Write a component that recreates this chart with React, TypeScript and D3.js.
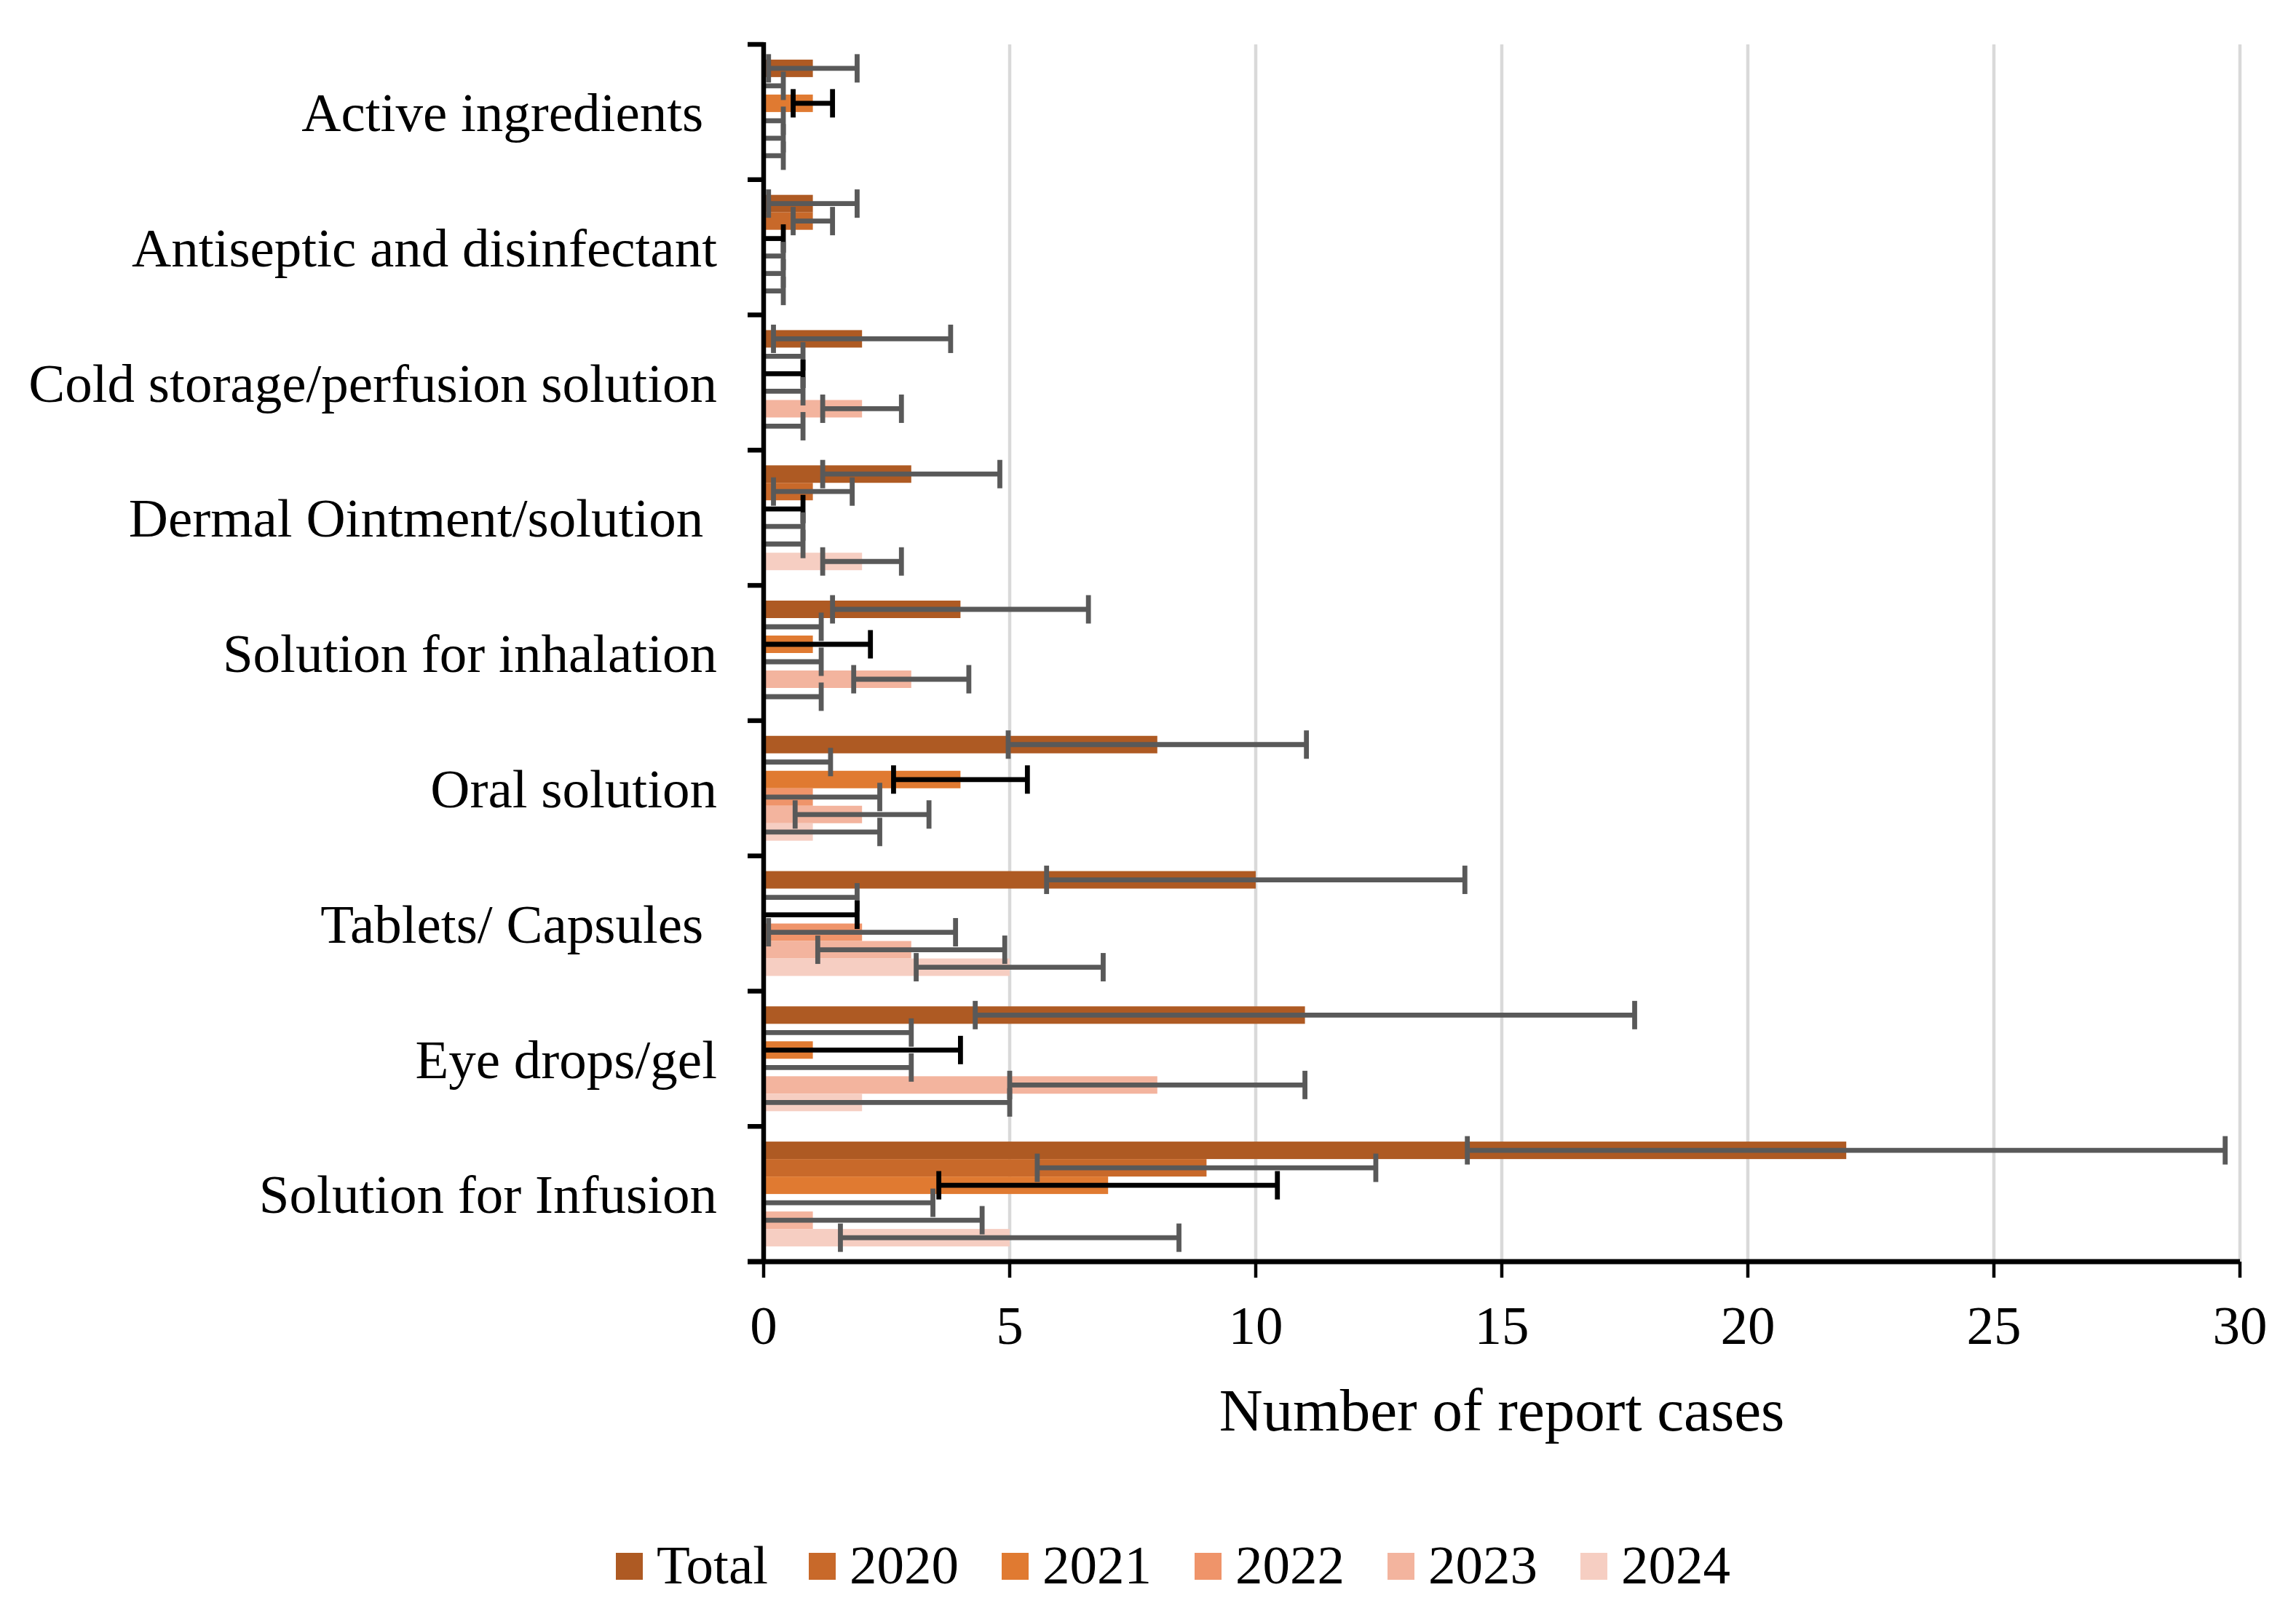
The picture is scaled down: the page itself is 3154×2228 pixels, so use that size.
import React, { useRef, useEffect } from "react";
import * as d3 from "d3";

const categories = [
  "Active ingredients ",
  "Antiseptic and disinfectant",
  "Cold storage/perfusion solution",
  "Dermal Ointment/solution ",
  "Solution for inhalation",
  "Oral solution",
  "Tablets/ Capsules ",
  "Eye drops/gel",
  "Solution for Infusion",
];

const seriesNames = ["Total", "2020", "2021", "2022", "2023", "2024"];

const totalValues = [1, 1, 2, 3, 4, 8, 10, 11, 22];
const values2020 = [0, 1, 0, 1, 0, 0, 0, 0, 9];
const values2021 = [1, 0, 0, 0, 1, 4, 0, 1, 7];
const values2022 = [0, 0, 0, 0, 0, 1, 2, 0, 0];
const values2023 = [0, 0, 2, 0, 3, 2, 3, 8, 1];
const values2024 = [0, 0, 0, 2, 0, 1, 5, 2, 5];

// error bar half-widths
const totalErrors = [0.9, 0.9, 1.8, 1.8, 2.6, 3.03, 4.25, 6.7, 7.7];
const yearErrors = [0.4, 0.4, 0.8, 0.8, 1.17, 1.36, 1.9, 3.0, 3.44];

const xTicks = [0, 5, 10, 15, 20, 25, 30];

const colors = ["#AE5A23", "#C8692A", "#E07A31", "#EF946A", "#F3B49E", "#F6CEC2"];
const errColors = ["#595959", "#595959", "#000000", "#595959", "#595959", "#595959"];

const W = 3154;
const H = 2228;
const FONT = "'Liberation Serif', 'Times New Roman', serif";

const Chart: React.FC = () => {
  const svgRef = useRef<SVGSVGElement | null>(null);
  const margin = { top: 61, right: 77, bottom: 495, left: 1049 };

  useEffect(() => {
    const svg = d3.select(svgRef.current);
    svg.selectAll("*").remove();

    const innerWidth = W - margin.left - margin.right;
    const innerHeight = H - margin.top - margin.bottom;

    const x = d3.scaleLinear().domain([0, 30]).range([0, innerWidth]);
    const y = d3.scaleBand().domain(categories).range([0, innerHeight]).padding(0);
    const inner = d3
      .scaleBand()
      .domain(seriesNames)
      .range([0, y.bandwidth()])
      .paddingInner(0)
      .paddingOuter(0.87);

    const allValues = [totalValues, values2020, values2021, values2022, values2023, values2024];
    const allErrors = [totalErrors, yearErrors, yearErrors, yearErrors, yearErrors, yearErrors];

    const g = svg.append("g").attr("transform", `translate(${margin.left},${margin.top})`);

    // gridlines
    g.selectAll(".grid")
      .data(xTicks.filter((t) => t > 0))
      .enter()
      .append("line")
      .attr("x1", (d) => x(d))
      .attr("x2", (d) => x(d))
      .attr("y1", 0)
      .attr("y2", innerHeight)
      .attr("stroke", "#D9D9D9")
      .attr("stroke-width", 4.5);

    // bars
    seriesNames.forEach((s, si) => {
      g.selectAll(`.bar-${si}`)
        .data(categories)
        .enter()
        .append("rect")
        .attr("x", 0)
        .attr("y", (c) => y(c)! + inner(s)!)
        .attr("width", (c, i) => x(allValues[si][i]))
        .attr("height", inner.bandwidth())
        .attr("fill", colors[si]);
    });

    // error bars
    const capHalf = 19.5;
    seriesNames.forEach((s, si) => {
      categories.forEach((c, i) => {
        const v = allValues[si][i];
        const e = allErrors[si][i];
        const cy = y(c)! + inner(s)! + inner.bandwidth() / 2;
        const lo = v - e;
        const hi = v + e;
        const eg = g.append("g").attr("stroke", errColors[si]).attr("stroke-width", 6.8);
        eg.append("line")
          .attr("x1", x(Math.max(0, lo)))
          .attr("x2", x(hi))
          .attr("y1", cy)
          .attr("y2", cy);
        eg.append("line")
          .attr("x1", x(hi))
          .attr("x2", x(hi))
          .attr("y1", cy - capHalf)
          .attr("y2", cy + capHalf);
        if (lo > 0) {
          eg.append("line")
            .attr("x1", x(lo))
            .attr("x2", x(lo))
            .attr("y1", cy - capHalf)
            .attr("y2", cy + capHalf);
        }
      });
    });

    // category axis
    g.append("line")
      .attr("x1", 0)
      .attr("x2", 0)
      .attr("y1", -3)
      .attr("y2", innerHeight + 3)
      .attr("stroke", "#000")
      .attr("stroke-width", 6.5);
    const bounds = categories.map((c) => y(c)!).concat([innerHeight]);
    g.selectAll(".ctick")
      .data(bounds)
      .enter()
      .append("line")
      .attr("x1", -22)
      .attr("x2", 0)
      .attr("y1", (d) => d)
      .attr("y2", (d) => d)
      .attr("stroke", "#000")
      .attr("stroke-width", 6.5);

    g.selectAll(".clabel")
      .data(categories)
      .enter()
      .append("text")
      .attr("x", -64)
      .attr("y", (c) => y(c)! + y.bandwidth() / 2)
      .attr("dy", "0.35em")
      .attr("text-anchor", "end")
      .style("white-space", "pre")
      .attr("font-family", FONT)
      .attr("font-size", 75)
      .attr("fill", "#000")
      .text((c) => c);

    // value axis
    g.append("line")
      .attr("x1", -22)
      .attr("x2", innerWidth)
      .attr("y1", innerHeight)
      .attr("y2", innerHeight)
      .attr("stroke", "#000")
      .attr("stroke-width", 6.8);
    g.selectAll(".xtick")
      .data(xTicks)
      .enter()
      .append("line")
      .attr("x1", (d) => x(d))
      .attr("x2", (d) => x(d))
      .attr("y1", innerHeight)
      .attr("y2", innerHeight + 22)
      .attr("stroke", "#000")
      .attr("stroke-width", 4.5);
    g.selectAll(".xlabel")
      .data(xTicks)
      .enter()
      .append("text")
      .attr("x", (d) => x(d))
      .attr("y", innerHeight + 113)
      .attr("text-anchor", "middle")
      .attr("font-family", FONT)
      .attr("font-size", 75)
      .attr("fill", "#000")
      .text((d) => String(d));

    g.append("text")
      .attr("x", innerWidth / 2)
      .attr("y", innerHeight + 232)
      .attr("text-anchor", "middle")
      .attr("font-family", FONT)
      .attr("font-size", 83)
      .attr("fill", "#000")
      .text("Number of report cases");

    // legend
    const legend = svg.append("g").attr("transform", "translate(846,2133)");
    seriesNames.forEach((s, si) => {
      const lg = legend.append("g").attr("transform", `translate(${si * 265},0)`);
      lg.append("rect").attr("width", 37).attr("height", 37).attr("fill", colors[si]);
      lg.append("text")
        .attr("x", 56)
        .attr("y", 42)
        .attr("font-family", FONT)
        .attr("font-size", 75)
        .attr("fill", "#000")
        .text(s);
    });
  }, []);

  return (
    <svg
      ref={svgRef}
      width={W}
      height={H}
      style={{ position: "absolute", left: 0, top: 0, background: "#fff" }}
    />
  );
};

export default function App() {
  return <Chart />;
}
